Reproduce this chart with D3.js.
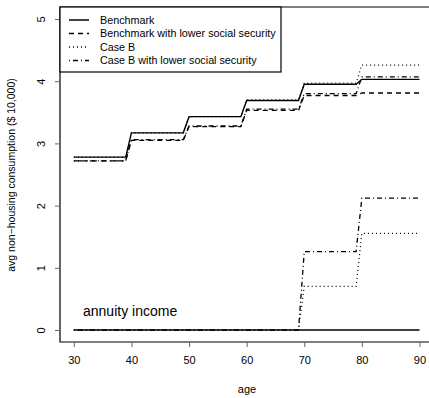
<!DOCTYPE html>
<html><head><meta charset="utf-8">
<script src="https://cdn.jsdelivr.net/npm/d3@7"></script>
<style>body{margin:0;background:#fff}svg{display:block}text{font-family:"Liberation Sans",Arial,sans-serif;fill:#000}</style>
</head><body><svg id="c" width="429" height="398"></svg>
<script>
// Data: values per age bracket (30-39, 40-49, 50-59, 60-69, 70-79, 80-90)
const brackets = [30, 40, 50, 60, 70, 80];
const lastAge = 90;
const benchmark      = [2.78, 3.17, 3.43, 3.69, 3.95, 4.03];
const benchLowerSS   = [2.72, 3.05, 3.27, 3.53, 3.77, 3.81];
const caseB          = [2.78, 3.17, 3.43, 3.70, 3.97, 4.26];
const caseBLowerSS   = [2.72, 3.06, 3.28, 3.55, 3.80, 4.07];
const annuityBench   = [0, 0, 0, 0, 0, 0];
const annuityCaseB   = [0, 0, 0, 0, 0.70, 1.555];
const annuityCaseBLo = [0, 0, 0, 0, 1.26, 2.12];
const xTicks = [30, 40, 50, 60, 70, 80, 90];
const yTicks = [0, 1, 2, 3, 4, 5];
const legendLabels = ["Benchmark", "Benchmark with lower social security", "Case B", "Case B with lower social security"];
const dashes = [null, "5,4", "1,3", "1,3,5,3"];

const svg = d3.select("#c");
const x = d3.scaleLinear().domain([27.6, 92.4]).range([60, 433.3]);
const y = d3.scaleLinear().domain([-0.193, 5.193]).range([342, 7]);

// build step points: value held through age b+9, then jump to next bracket at b+10
function steps(vals) {
  const pts = [];
  vals.forEach((v, i) => {
    const start = brackets[i];
    const end = i < vals.length - 1 ? brackets[i + 1] - 1 : lastAge;
    pts.push([start, v], [end, v]);
  });
  return pts;
}
const line = d3.line().x(d => x(d[0])).y(d => y(d[1]));

const series = [
  {v: annuityBench, d: 0, w: 1.6},
  {v: annuityCaseB, d: 2, w: 1.2},
  {v: annuityCaseBLo, d: 3, w: 1.3},
  {v: benchmark, d: 0, w: 1.4},
  {v: benchLowerSS, d: 1, w: 1.3},
  {v: caseB, d: 2, w: 1.2},
  {v: caseBLowerSS, d: 3, w: 1.3},
];
series.forEach(s => {
  svg.append("path").attr("d", line(steps(s.v))).attr("fill", "none")
    .attr("stroke", "#000").attr("stroke-width", s.w)
    .attr("stroke-dasharray", dashes[s.d]);
});

// box
svg.append("path").attr("d", `M${x(92.4)},7H60V342H${x(92.4)}`).attr("fill","none").attr("stroke","#000").attr("stroke-width",1.2);

// x axis
const xa = svg.append("g").attr("transform", "translate(0,342)")
  .call(d3.axisBottom(x).tickValues(xTicks).tickSize(5).tickPadding(9).tickFormat(d3.format("d")));
xa.select(".domain").remove();
xa.selectAll("text").attr("font-size", 11).style("font-family", '"Liberation Sans",Arial,sans-serif').attr("fill", "#222");
xa.selectAll("line").attr("stroke", "#666");

// y axis
const ya = svg.append("g").attr("transform", "translate(60,0)")
  .call(d3.axisLeft(y).tickValues(yTicks).tickSize(5).tickFormat(d3.format("d")));
ya.select(".domain").remove();
ya.selectAll("line").attr("stroke", "#666");
ya.selectAll("text").attr("font-size", 11).style("font-family", '"Liberation Sans",Arial,sans-serif').attr("fill", "#222")
  .attr("x", null).attr("text-anchor", "middle")
  .attr("transform", "translate(-19,0) rotate(-90)").attr("dy", "0.35em");

// axis labels
svg.append("text").attr("x", 247).attr("y", 393).attr("text-anchor", "middle").attr("font-size", 11).attr("fill", "#222").text("age");
svg.append("text").attr("transform", "translate(15,175) rotate(-90)").attr("text-anchor", "middle").attr("font-size", 10.5).attr("fill", "#222")
  .text("avg non\u2212housing consumption ($ 10,000)");

// annotation
svg.append("text").attr("x", 83).attr("y", 316).attr("font-size", 14).text("annuity income");

// legend
const lg = svg.append("g");
lg.append("rect").attr("x", 60).attr("y", 7).attr("width", 221).attr("height", 65).attr("fill", "#fff").attr("stroke", "#000").attr("stroke-width", 1.2);
legendLabels.forEach((t, i) => {
  const yy = 20 + i * 13.5;
  lg.append("line").attr("x1", 69).attr("x2", 89).attr("y1", yy).attr("y2", yy)
    .attr("stroke", "#000").attr("stroke-width", i === 0 ? 1.5 : 1.3).attr("stroke-dasharray", dashes[i]);
  lg.append("text").attr("x", 100).attr("y", yy).attr("dy", "0.35em").attr("font-size", 10.75).attr("fill", "#111").text(t);
});
</script></body></html>
